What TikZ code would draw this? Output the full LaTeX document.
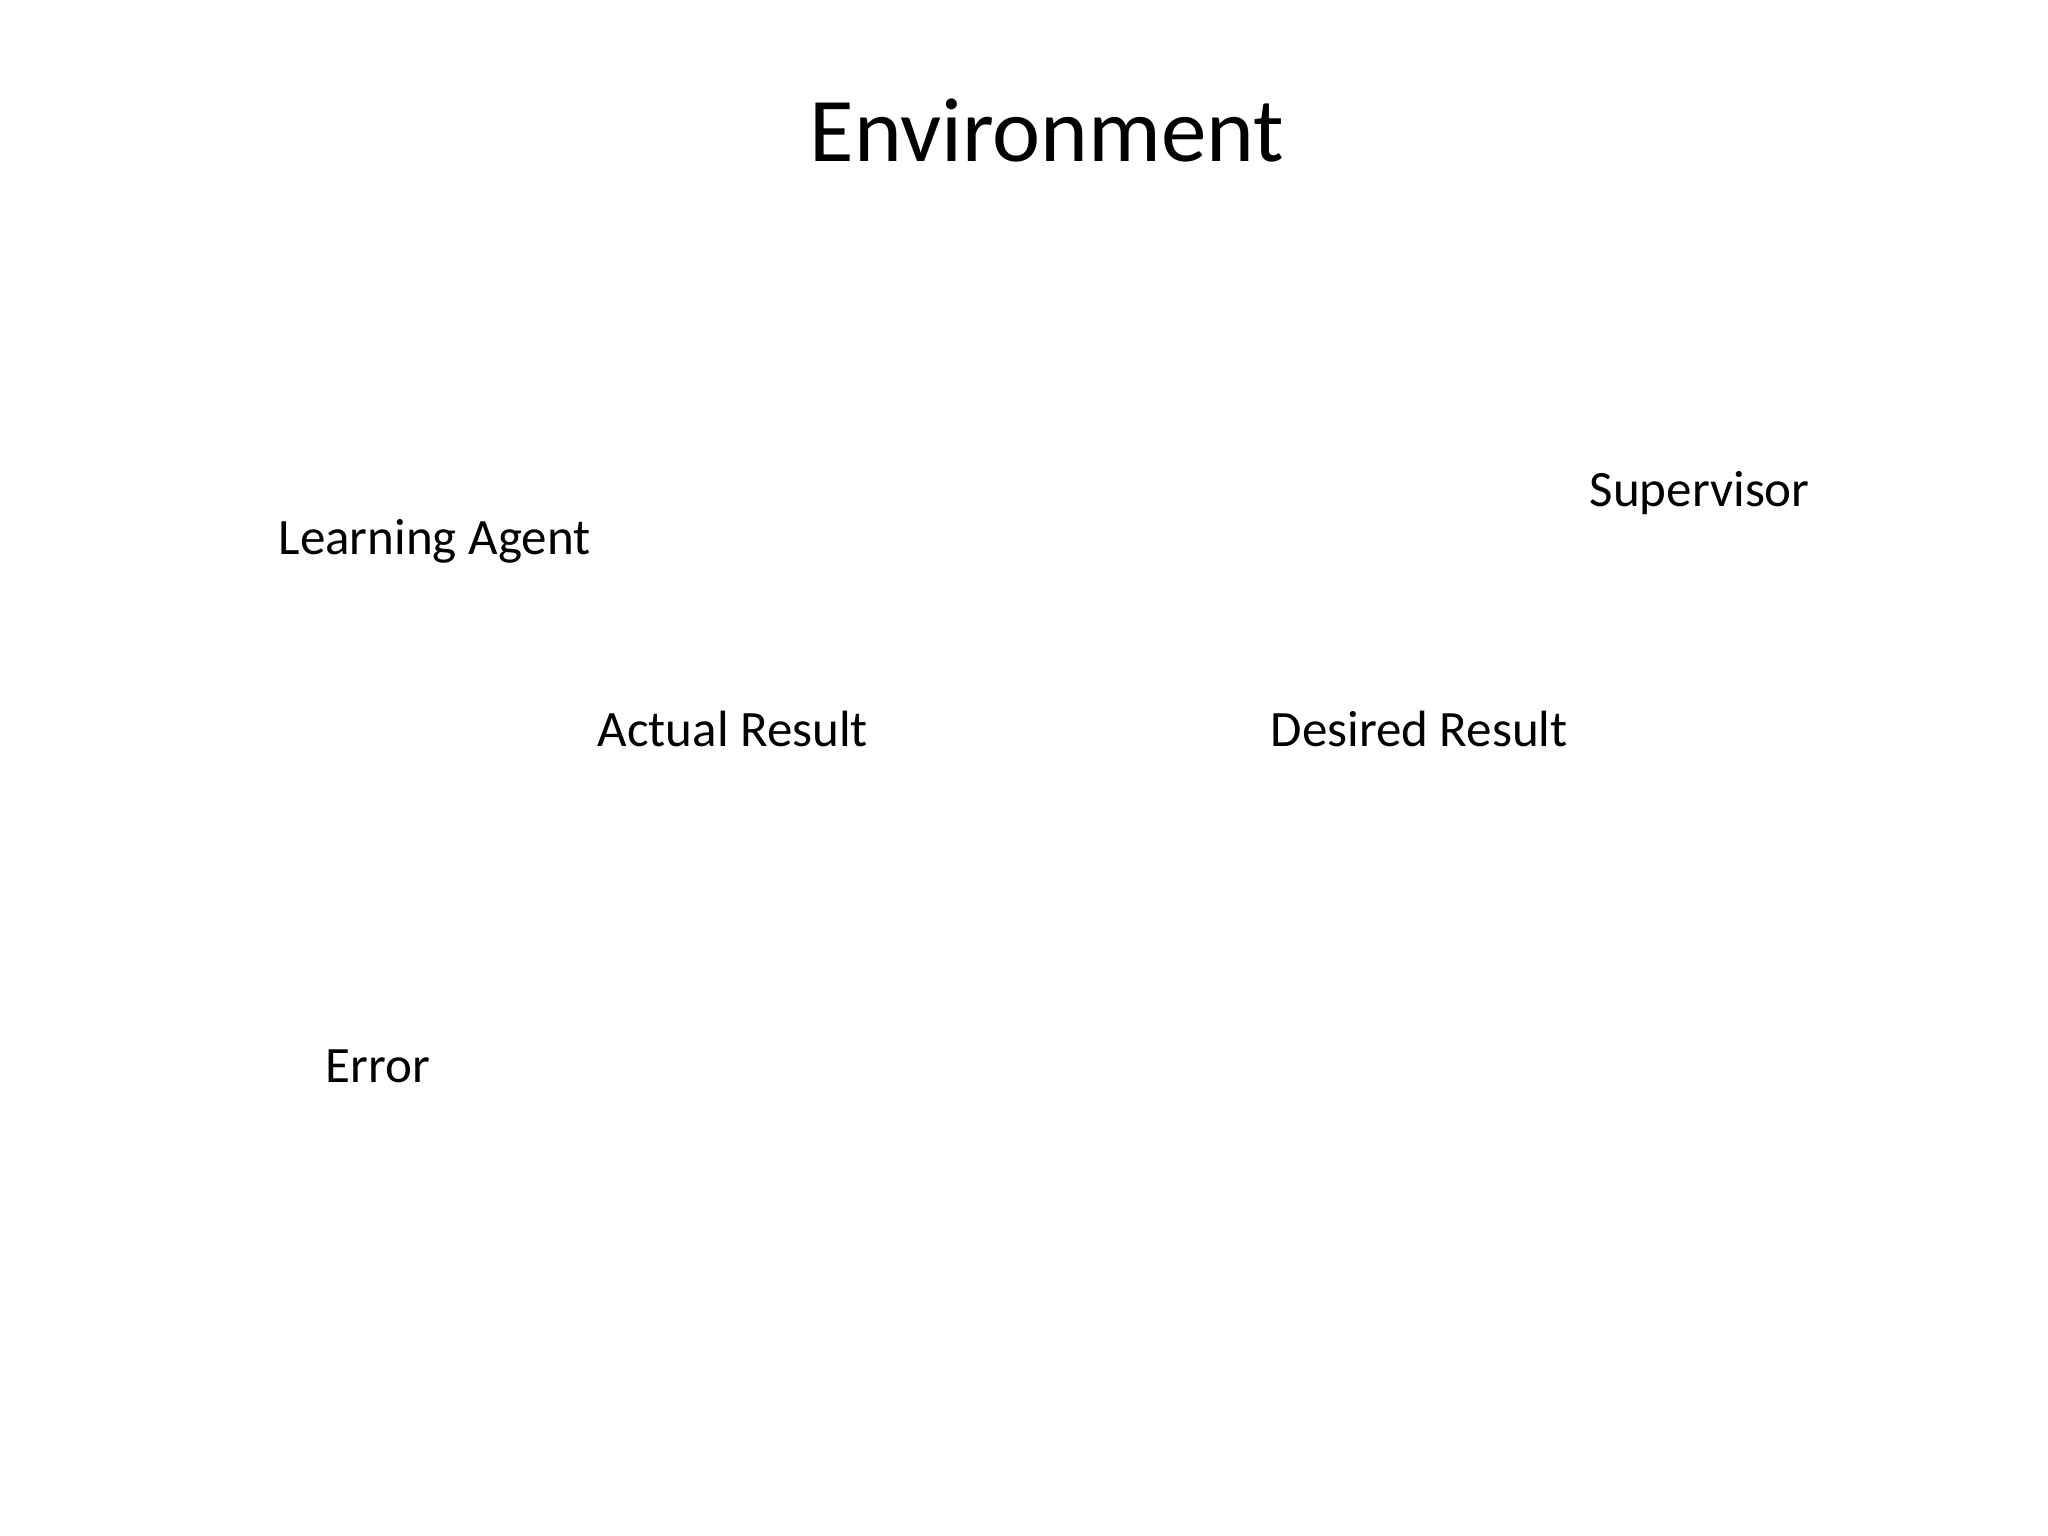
\documentclass[tikz,border=0pt]{standalone}
\usepackage{fontspec}
\setmainfont{Carlito}
\usetikzlibrary{positioning}
\tikzset{
    slide text/.style = {
        inner sep=0pt,
        anchor=base west,
        font=\fontsize{14.5pt}{17pt}\selectfont,
        },
    slide title/.style = {
        slide text,
        font=\fontsize{25.9pt}{30pt}\selectfont,
        },
}
\begin{document}
\begin{tikzpicture}[x=0.01cm, y=-0.01cm]
    % page
    \path[fill=white] (0,0) rectangle (2048,1536);

    % title
    \node [slide title] (env) at (809,161) {Environment};

    % labels
    \node [slide text] (agent) at (278,554) {Learning Agent};
    \node [slide text] (super) at (1589,506) {Supervisor};
    \node [slide text] (actual) at (597,746) {Actual Result};
    \node [slide text] (desired) at (1270,746) {Desired Result};
    \node [slide text] (err) at (325,1082) {Error};
\end{tikzpicture}
\end{document}
